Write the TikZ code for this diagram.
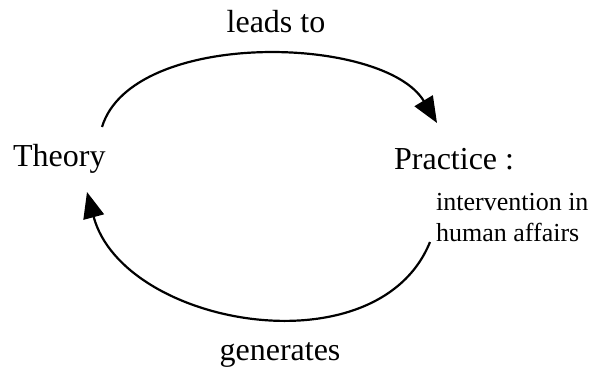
\documentclass[tikz,border=0pt]{standalone}
\usepackage{fontspec}
\setmainfont{Liberation Serif}
\usetikzlibrary{arrows.meta}

\begin{document}
\begin{tikzpicture}[x=1pt,y=1pt,line width=1.1pt,-{Triangle[length=13pt,width=10.5pt]}]
    \tikzstyle{concept}=[inner sep=0pt,anchor=base west,font=\fontsize{16}{19}\selectfont]
    \tikzstyle{relation}=[concept,anchor=base]
    \tikzstyle{gloss}=[inner sep=0pt,anchor=base west,align=left,font=\fontsize{13}{15.5}\selectfont]

    \useasboundingbox (0,0) rectangle (297.5,183.5);

    \node[concept] (theory) at (6,100) {Theory};
    \node[concept] (practice) at (196.5,98.5) {Practice :};
    % base of a two-line node sits on its last line
    \node[gloss] (affairs) at (217.5,62.5) {intervention in\\human affairs};
    \node[relation] (leads) at (138,167) {leads to};
    \node[relation] (generates) at (140,3) {generates};

    \coordinate (th-top) at (51,120);
    \coordinate (pr-top) at (218.5,122);
    \coordinate (pr-bot) at (215,62.5);
    \coordinate (th-bot) at (43.5,87.5);

    \draw (th-top) to[out=73,in=121,looseness=0.785] (pr-top);
    \draw (pr-bot) to[out=248,in=285,looseness=1.03] (th-bot);
\end{tikzpicture}
\end{document}
